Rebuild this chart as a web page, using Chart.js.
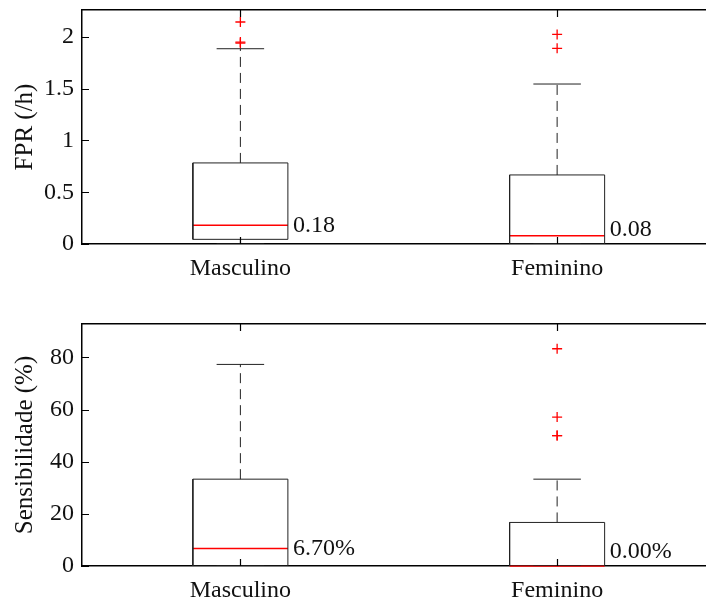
<!DOCTYPE html>
<html>
<head>
<meta charset="utf-8">
<script src="https://cdn.jsdelivr.net/npm/chart.js@4.4.0/dist/chart.umd.min.js"></script>
<style>
  html, body { margin: 0; padding: 0; background: #fff; overflow: hidden; }
  canvas { position: absolute; left: 0; }
  #fprChart { top: 0; }
  #sensChart { top: 300px; }
</style>
</head>
<body>
<canvas id="fprChart" width="706" height="300"></canvas>
<canvas id="sensChart" width="706" height="304"></canvas>
<script>
const groups = ["Masculino", "Feminino"];

// FPR per group (quartiles, whisker ends, outliers)
const fprQ1 = [0.045, 0];
const fprMedian = [0.18, 0.08];
const fprQ3 = [0.783, 0.667];
const fprLow = [0, 0];
const fprHigh = [1.886, 1.545];
const fprOutliers = [[2.144, 1.95, 1.94], [2.024, 1.89]];
const fprTicks = [0, 0.5, 1, 1.5, 2];

// Sensibilidade per group
const sensQ1 = [0, 0];
const sensMedian = [6.7, 0];
const sensQ3 = [33.3, 16.7];
const sensLow = [0, 0];
const sensHigh = [77.3, 33.3];
const sensOutliers = [[], [83.3, 57.1, 50, 50]];
const sensTicks = [0, 20, 40, 60, 80];

const BOX_HALF = 0.15;
const CAP_HALF = 0.075;
const FONT = "'Liberation Serif', 'Times New Roman', serif";

const seg = (x0, y0, x1, y1) => [{ x: x0, y: y0 }, { x: x1, y: y1 }];

function boxDatasets(q1, med, q3, low, high, outliers) {
  let sets = [];
  groups.forEach((g, i) => {
    const c = i + 1;
    sets.push({
      data: [
        { x: c - BOX_HALF, y: q1[i] }, { x: c + BOX_HALF, y: q1[i] },
        { x: c + BOX_HALF, y: q3[i] }, { x: c - BOX_HALF, y: q3[i] },
        { x: c - BOX_HALF, y: q1[i] }
      ],
      showLine: true, borderColor: "#222", borderWidth: 1, pointRadius: 0
    });
    sets.push({ data: seg(c, q3[i], c, high[i]), showLine: true, borderColor: "#222", borderWidth: 1, borderDash: [10, 6], pointRadius: 0 });
    sets.push({ data: seg(c, q1[i], c, low[i]), showLine: true, borderColor: "#222", borderWidth: 1, borderDash: [10, 6], pointRadius: 0 });
    sets.push({ data: seg(c - CAP_HALF, high[i], c + CAP_HALF, high[i]), showLine: true, borderColor: "#222", borderWidth: 1, pointRadius: 0 });
    sets.push({ data: seg(c - CAP_HALF, low[i], c + CAP_HALF, low[i]), showLine: true, borderColor: "#222", borderWidth: 1, pointRadius: 0 });
    sets.push({ data: seg(c - BOX_HALF, med[i], c + BOX_HALF, med[i]), showLine: true, borderColor: "#ff0000", borderWidth: 1.5, pointRadius: 0, clip: 4 });
    sets.push({
      data: outliers[i].map((v) => ({ x: c, y: v })),
      showLine: false, pointStyle: "cross", pointRadius: 5, pointBorderWidth: 1.3,
      pointBorderColor: "#ff0000", pointBackgroundColor: "#ff0000"
    });
  });
  return sets;
}

// inward tick marks and the median value written beside each box
const boxExtras = {
  id: "boxExtras",
  afterDraw(chart, args, opts) {
    const { ctx, chartArea: { left, top, bottom }, scales: { x, y } } = chart;
    ctx.save();
    ctx.strokeStyle = "#000";
    ctx.lineWidth = 1.2;
    ctx.beginPath();
    y.ticks.forEach((t) => {
      const py = Math.round(y.getPixelForValue(t.value)) + 0.5;
      ctx.moveTo(left, py);
      ctx.lineTo(left + 7, py);
    });
    x.ticks.forEach((t) => {
      const px = Math.round(x.getPixelForValue(t.value)) + 0.5;
      ctx.moveTo(px, bottom);
      ctx.lineTo(px, bottom - 7);
      ctx.moveTo(px, top);
      ctx.lineTo(px, top + 7);
    });
    ctx.stroke();
    ctx.font = "24px " + FONT;
    ctx.fillStyle = "#111";
    ctx.textAlign = "left";
    ctx.textBaseline = "middle";
    opts.medians.forEach((m, i) => {
      const px = x.getPixelForValue(i + 1 + BOX_HALF) + 5;
      const py = Math.min(y.getPixelForValue(m), bottom - 14);
      ctx.fillText(opts.format(m), px, py);
    });
    ctx.restore();
  }
};

const noPad = (axis) => {
  axis.paddingTop = 0;
  axis.paddingBottom = 0;
  axis.paddingLeft = 0;
  axis.paddingRight = 0;
};

function makeChart(id, datasets, yTitle, yMax, ticks, xHeight, padTop, medians, format) {
  return new Chart(document.getElementById(id), {
    type: "scatter",
    data: { datasets: datasets },
    options: {
      responsive: false,
      animation: false,
      devicePixelRatio: 1,
      layout: { autoPadding: false, padding: { top: padTop, right: 0, left: 0, bottom: 0 } },
      plugins: {
        legend: { display: false },
        tooltip: { enabled: false },
        boxExtras: { medians: medians, format: format }
      },
      scales: {
        x: {
          type: "linear", position: "bottom", min: 0.5, max: 2.47,
          afterBuildTicks: (axis) => { axis.ticks = groups.map((g, i) => ({ value: i + 1 })); },
          afterFit: (axis) => { axis.height = xHeight; noPad(axis); },
          ticks: { callback: (v) => groups[v - 1], color: "#111", font: { family: FONT, size: 24 }, padding: 10, maxRotation: 0 },
          grid: { display: false, drawTicks: false },
          border: { display: true, color: "#000", width: 1.5 }
        },
        x2: {
          type: "linear", position: "top", min: 0.5, max: 2.47,
          afterFit: (axis) => { axis.height = 0; noPad(axis); },
          ticks: { display: false },
          grid: { display: false, drawTicks: false },
          border: { display: true, color: "#000", width: 1.5 }
        },
        y: {
          min: 0, max: yMax,
          afterBuildTicks: (axis) => { axis.ticks = ticks.map((v) => ({ value: v })); },
          afterFit: (axis) => { axis.width = 82; noPad(axis); },
          ticks: { color: "#111", font: { family: FONT, size: 24 }, padding: 8, callback: (v) => String(v) },
          grid: { display: false, drawTicks: false },
          border: { display: true, color: "#000", width: 1.5 },
          title: { display: true, text: yTitle, color: "#111", font: { family: FONT, size: 25 }, padding: { top: 10, bottom: 0 } }
        }
      }
    },
    plugins: [boxExtras]
  });
}

makeChart("fprChart", boxDatasets(fprQ1, fprMedian, fprQ3, fprLow, fprHigh, fprOutliers),
  "FPR (/h)", 2.26, fprTicks, 56, 10, fprMedian, (m) => m.toFixed(2));

makeChart("sensChart", boxDatasets(sensQ1, sensMedian, sensQ3, sensLow, sensHigh, sensOutliers),
  "Sensibilidade (%)", 92.8, sensTicks, 38, 24, sensMedian, (m) => m.toFixed(2) + "%");
</script>
</body>
</html>
